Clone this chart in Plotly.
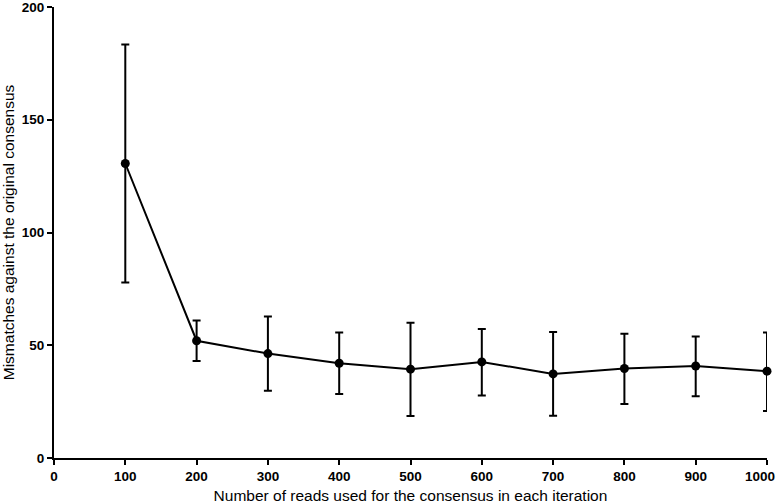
import plotly.graph_objects as go

reads = [100, 200, 300, 400, 500, 600, 700, 800, 900, 1000]
mismatches = [130.6, 52.0, 46.3, 42.0, 39.4, 42.6, 37.3, 39.7, 40.8, 38.5]
err_upper = [183.4, 61.0, 62.8, 55.6, 60.0, 57.2, 55.9, 55.1, 53.9, 55.7]
err_lower = [77.8, 43.0, 29.8, 28.4, 18.6, 27.7, 18.7, 24.0, 27.4, 20.8]

plus = [u - m for u, m in zip(err_upper, mismatches)]
minus = [m - l for m, l in zip(mismatches, err_lower)]

x_ticks = list(range(0, 1001, 100))
x_ticktext = [str(v) for v in x_ticks[:-1]] + [""]  # last label placed as annotation
y_ticks = [0, 50, 100, 150, 200]

tick_font = dict(family="Liberation Sans, Arial", size=13.5, color="black", weight="bold")

fig = go.Figure()
fig.add_trace(go.Scatter(
    x=reads, y=mismatches, mode="lines+markers",
    line=dict(color="black", width=2),
    marker=dict(color="black", size=9, symbol="circle"),
    error_y=dict(type="data", symmetric=False, array=plus, arrayminus=minus,
                 color="black", thickness=2, width=4),
    showlegend=False, cliponaxis=False,
))

axis_common = dict(
    showline=True, linecolor="black", linewidth=2,
    ticks="outside", ticklen=5, tickwidth=2, tickcolor="black",
    showgrid=False, zeroline=False, automargin=False,
    ticklabeloverflow="allow",
    tickfont=tick_font,
)

fig.update_layout(
    width=778, height=504,
    margin=dict(l=54, r=11, t=7, b=46),
    paper_bgcolor="white", plot_bgcolor="white",
    font=dict(family="Liberation Sans, Arial", color="black"),
    xaxis=dict(range=[0, 1000], tickvals=x_ticks, ticktext=x_ticktext, **axis_common,
               title=dict(text="Number of reads used for the consensus in each iteration",
                          font=dict(size=15.5), standoff=9)),
    yaxis=dict(range=[0, 200], tickvals=y_ticks, **axis_common,
               title=dict(text="Mismatches against the original consensus",
                          font=dict(size=15.5), standoff=8)),
)

fig.add_annotation(
    x=1, y=0, xref="paper", yref="paper", text=str(x_ticks[-1]),
    showarrow=False, xanchor="right", yanchor="middle",
    xshift=9, yshift=-18, font=tick_font, borderpad=0,
)

fig.write_html("out.html", config={"displayModeBar": False},
               post_script="document.body.style.margin='0';")
